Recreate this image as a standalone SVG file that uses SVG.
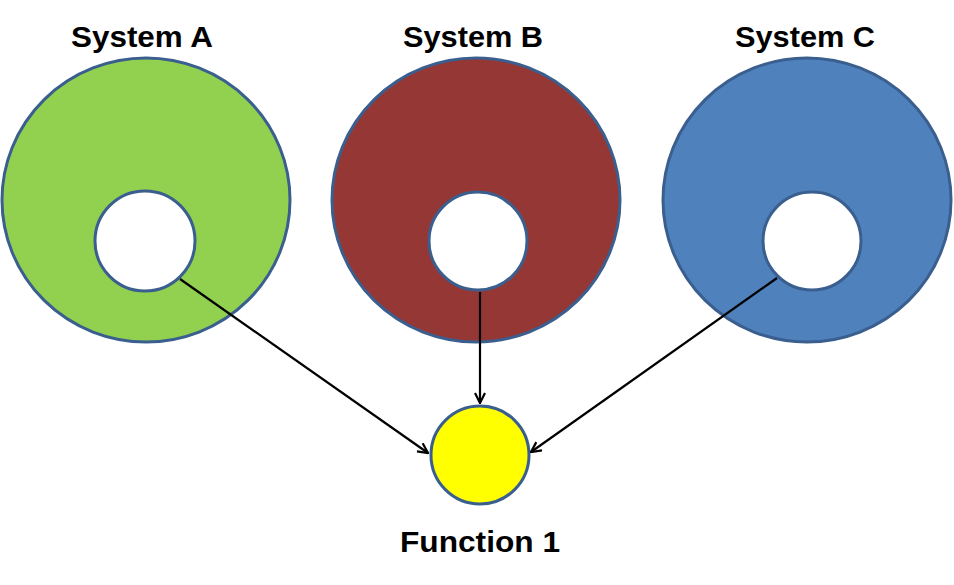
<svg xmlns="http://www.w3.org/2000/svg" width="954" height="585" viewBox="0 0 954 585">
<style>
.lbl{font-family:"Liberation Sans",Arial,sans-serif;font-weight:bold;font-size:29px;fill:#000;text-anchor:middle}
.sh{stroke:#3A5F8E;stroke-width:3}
.con{stroke:#000;stroke-width:2.2;fill:none;marker-end:url(#ah)}
</style>
<defs>
<marker id="ah" viewBox="0 0 12 12" refX="11" refY="6" markerWidth="12" markerHeight="12" markerUnits="userSpaceOnUse" orient="auto">
<path d="M1,1 L11,6 L1,11" fill="none" stroke="#000" stroke-width="2.2"/>
</marker>
</defs>
<rect width="954" height="585" fill="#fff"/>
<g id="systemA">
<ellipse class="sh" cx="146" cy="200" rx="144" ry="142" fill="#92D050"/>
<circle class="sh" cx="145" cy="241" r="50" fill="#fff"/>
<text class="lbl" x="142" y="47" textLength="142" lengthAdjust="spacingAndGlyphs">System A</text>
</g>
<g id="systemB">
<ellipse class="sh" cx="476" cy="200" rx="144" ry="142" fill="#953735"/>
<circle class="sh" cx="478" cy="241" r="49" fill="#fff"/>
<text class="lbl" x="473" y="47" textLength="140" lengthAdjust="spacingAndGlyphs">System B</text>
</g>
<g id="systemC">
<ellipse class="sh" cx="807" cy="200" rx="144" ry="142" fill="#4F81BD"/>
<circle class="sh" cx="812" cy="241" r="49" fill="#fff"/>
<text class="lbl" x="805" y="47" textLength="140" lengthAdjust="spacingAndGlyphs">System C</text>
</g>
<g id="function1">
<circle class="sh" cx="480" cy="455" r="49" fill="#FFFF00"/>
<text class="lbl" x="480" y="552" textLength="160" lengthAdjust="spacingAndGlyphs">Function 1</text>
</g>
<g id="connectors">
<line class="con" x1="180" y1="279" x2="428" y2="453"/>
<line class="con" x1="480" y1="292" x2="480" y2="403"/>
<line class="con" x1="777" y1="278" x2="531" y2="452"/>
</g>
</svg>
